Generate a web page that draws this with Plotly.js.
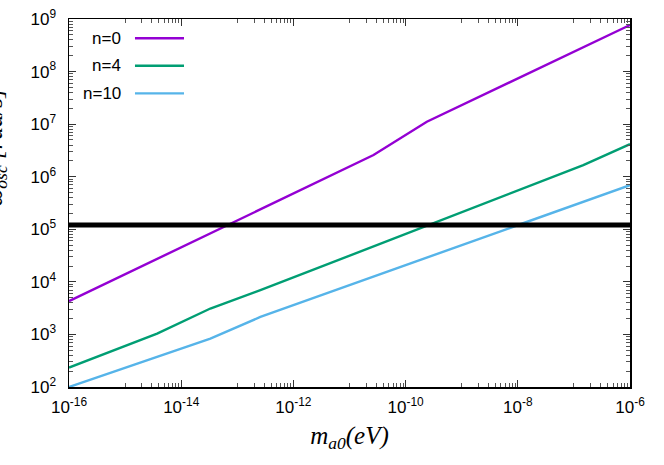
<!DOCTYPE html>
<html><head><meta charset="utf-8">
<script src="https://cdn.plot.ly/plotly-3.0.1.min.js"></script>
<style>html,body{margin:0;padding:0;background:#fff}</style>
</head><body><div id="chart" style="width:664px;height:465px"></div>
<script>
const seriesNames = ['n=0', 'n=4', 'n=10'];
const seriesColors = ['#9400D3', '#009E73', '#56B4E9'];
const n0_x = [1e-16, 2.68e-11, 2.39e-10, 1e-6];
const n0_y = [4.29e3, 2.58e6, 1.11e7, 7.69e8];
const n4_x = [1e-16, 3.72e-15, 3.31e-14, 2.58e-13, 1.47e-7, 1e-6];
const n4_y = [234, 1.04e3, 3.11e3, 6.93e3, 1.66e6, 4.17e6];
const n10_x = [1e-16, 3.31e-14, 2.58e-13, 1e-6];
const n10_y = [100, 836, 2.15e3, 6.92e5];
const threshold_x = [1e-16, 1e-6];
const threshold_y = [1.2e5, 1.2e5];
const xTickVals = [1e-16, 1e-14, 1e-12, 1e-10, 1e-8, 1e-6];
const xTickText = ['10<sup>-16</sup>', '10<sup>-14</sup>', '10<sup>-12</sup>', '10<sup>-10</sup>', '10<sup>-8</sup>', '10<sup>-6</sup>'];
const yTickVals = [1e2, 1e3, 1e4, 1e5, 1e6, 1e7, 1e8, 1e9];
const yTickText = ['10<sup>2</sup>', '10<sup>3</sup>', '10<sup>4</sup>', '10<sup>5</sup>', '10<sup>6</sup>', '10<sup>7</sup>', '10<sup>8</sup>', '10<sup>9</sup>'];

// minor tick positions (gnuplot-style)
const xMinor = [];
for (let e = -16; e < -6; e += 2) for (let m = 1; m <= 9; m++) xMinor.push(m * Math.pow(10, e + 1));
const yMinor = [];
for (let e = 2; e < 9; e++) for (let m = 2; m <= 9; m++) yMinor.push(m * Math.pow(10, e));

const xs = [n0_x, n4_x, n10_x];
const ys = [n0_y, n4_y, n10_y];
const traces = seriesNames.map((nm, i) => ({
  x: xs[i], y: ys[i], name: nm, mode: 'lines', type: 'scatter',
  line: {color: seriesColors[i], width: 2.4}, showlegend: false
}));
traces.push({x: threshold_x, y: threshold_y, mode: 'lines', type: 'scatter',
  line: {color: '#000', width: 5}, showlegend: false});

const tickFont = {family: 'Liberation Sans, Arial, sans-serif', size: 17, color: '#000'};
const annotations = [];
const shapes = [];
const legRows = [0.9476, 0.873, 0.798];
seriesNames.forEach((nm, i) => {
  annotations.push({xref: 'paper', yref: 'paper', x: 0.0963, y: legRows[i], xanchor: 'right', yanchor: 'middle',
    text: nm, showarrow: false, font: {family: 'Liberation Sans, Arial, sans-serif', size: 17, color: '#000'}});
  shapes.push({type: 'line', xref: 'paper', yref: 'paper', x0: 0.1176, x1: 0.205, y0: legRows[i], y1: legRows[i],
    line: {color: seriesColors[i], width: 2.4}});
});
annotations.push({xref: 'paper', yref: 'paper', x: -0.131, y: 0.65, xanchor: 'center', yanchor: 'middle',
  textangle: -90, text: '<i>ω<sub>osc</sub> [rad/s]</i>', showarrow: false,
  font: {family: 'Liberation Serif, Times New Roman, serif', size: 25, color: '#000'}});

const layout = {
  width: 664, height: 465,
  margin: {l: 69, r: 34, t: 19, b: 78},
  paper_bgcolor: '#fff', plot_bgcolor: '#fff',
  showlegend: false,
  xaxis: {type: 'log', range: [-16, -6], showgrid: false, zeroline: false,
    showline: true, linecolor: '#000', linewidth: 1.5, mirror: 'allticks',
    ticks: 'inside', ticklen: 7, tickwidth: 1, tickcolor: '#333',
    tickmode: 'array', tickvals: xTickVals, ticktext: xTickText, tickfont: tickFont,
    ticklabelstandoff: 4,
    minor: {tickmode: 'array', tickvals: xMinor, ticks: 'inside', ticklen: 4, tickcolor: '#555', tickwidth: 1, showgrid: false},
    title: {text: '<i>m<sub>a0</sub>(eV)</i>', font: {family: 'Liberation Serif, Times New Roman, serif', size: 25, color: '#000'}, standoff: 10}
  },
  yaxis: {type: 'log', range: [2, 9], showgrid: false, zeroline: false,
    showline: true, linecolor: '#000', linewidth: 1.5, mirror: 'allticks',
    ticks: 'inside', ticklen: 7, tickwidth: 1, tickcolor: '#333',
    tickmode: 'array', tickvals: yTickVals, ticktext: yTickText, tickfont: tickFont,
    ticklabelstandoff: 8,
    minor: {tickmode: 'array', tickvals: yMinor, ticks: 'inside', ticklen: 4, tickcolor: '#555', tickwidth: 1, showgrid: false}
  },
  annotations: annotations,
  shapes: shapes
};
Plotly.newPlot('chart', traces, layout, {displayModeBar: false, staticPlot: true});
</script></body></html>
